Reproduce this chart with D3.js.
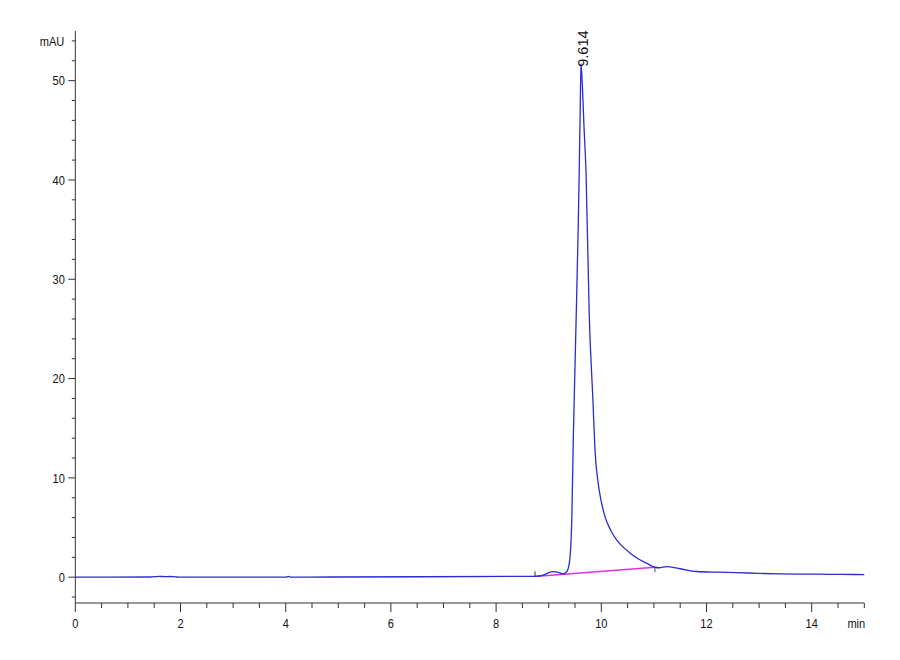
<!DOCTYPE html>
<html>
<head>
<meta charset="utf-8">
<script src="https://cdn.jsdelivr.net/npm/d3@7"></script>
<style>
    body { margin: 0; background: #fff; }
    text { font-family: "Liberation Sans", Arial, sans-serif; }
</style>
</head>
<body>
<div id="chart"></div>
<script>

// signal trace (min, mAU)
var times = [0, 1.4, 1.5, 1.6, 1.7, 1.8, 1.9, 2.0, 4.0, 4.05, 4.1, 4.9, 8.74, 8.9, 9.0, 9.09, 9.18, 9.28,
    9.35, 9.40, 9.44, 9.47, 9.50, 9.53, 9.56, 9.58, 9.60, 9.614, 9.64, 9.67, 9.71, 9.77, 9.84, 9.88, 9.94,
    10.0, 10.07, 10.18, 10.29, 10.42, 10.55, 10.7, 10.86, 11.02, 11.1, 11.24, 11.5, 11.81, 12.2, 12.57,
    13.0, 13.4, 13.8, 14.16, 14.6, 15.0];
var signal = [0, 0.02, 0.05, 0.08, 0.06, 0.07, 0.03, 0, 0, 0.08, 0, 0.02, 0.08, 0.2, 0.45, 0.56, 0.48, 0.33,
    0.6, 1.74, 6.1, 14.5, 21.2, 27.9, 35, 40.7, 47.5, 51.7, 49.5, 45.5, 40.7, 26.5, 17.9, 12.8, 9.5,
    7.6, 6.1, 4.7, 3.76, 3.0, 2.42, 1.85, 1.41, 1.0, 0.95, 1.07, 0.85, 0.57, 0.5, 0.46,
    0.38, 0.33, 0.31, 0.3, 0.28, 0.26];

// integration baseline
var baseTimes = [8.74, 11.02];
var baseValues = [0.08, 1.0];

var peakTime = 9.614;
var peakHeight = 51.7;
var peakLabel = "9.614";

var xMajor = [0, 2, 4, 6, 8, 10, 12, 14];
var yMajor = [0, 10, 20, 30, 40, 50];

var svgWidth = 900;
var svgHeight = 660;

var svg = d3.select("#chart")
    .append("svg")
    .attr("width", svgWidth)
    .attr("height", svgHeight);

var xScale = d3.scaleLinear()
    .domain([0, 15])
    .range([75.3, 864.3]);

var yScale = d3.scaleLinear()
    .domain([-2.6, 55])
    .range([603, 31]);

var axisColor = "#333";
// labels in the original look condensed
var squeeze = "scale(0.82, 1)";

// x axis
var xAxisG = svg.append("g")
    .attr("transform", `translate(0, ${yScale(-2.6)})`);

xAxisG.append("line")
    .attr("x1", xScale(0))
    .attr("x2", xScale(15))
    .attr("stroke", axisColor);

xAxisG.selectAll("line.minor")
    .data(d3.range(0, 15.01, 0.5))
    .enter()
    .append("line")
    .classed("minor", true)
    .attr("x1", d => xScale(d))
    .attr("x2", d => xScale(d))
    .attr("y1", 0)
    .attr("y2", d => xMajor.indexOf(d) >= 0 ? 9 : 5)
    .attr("stroke", axisColor);

xAxisG.selectAll("text")
    .data(xMajor)
    .enter()
    .append("text")
    .attr("transform", d => `translate(${xScale(d)}, 25) ${squeeze}`)
    .attr("text-anchor", "middle")
    .attr("font-size", "13.5px")
    .attr("fill", "#111")
    .text(d => d);

xAxisG.append("text")
    .attr("transform", `translate(${xScale(15) - 8}, 25) ${squeeze}`)
    .attr("text-anchor", "middle")
    .attr("font-size", "13.5px")
    .attr("fill", "#111")
    .text("min");

// y axis
var yAxisG = svg.append("g")
    .attr("transform", `translate(${xScale(0)}, 0)`);

yAxisG.append("line")
    .attr("y1", yScale(55))
    .attr("y2", yScale(-2.6))
    .attr("stroke", axisColor);

yAxisG.selectAll("line.minor")
    .data(d3.range(-2, 54.01, 2))
    .enter()
    .append("line")
    .classed("minor", true)
    .attr("y1", d => yScale(d))
    .attr("y2", d => yScale(d))
    .attr("x1", d => yMajor.indexOf(d) >= 0 ? -7 : -3.5)
    .attr("x2", 0)
    .attr("stroke", axisColor);

yAxisG.selectAll("text")
    .data(yMajor)
    .enter()
    .append("text")
    .attr("transform", d => `translate(-10.5, ${yScale(d)}) ${squeeze}`)
    .attr("dy", "0.35em")
    .attr("text-anchor", "end")
    .attr("font-size", "13.5px")
    .attr("fill", "#111")
    .text(d => d);

yAxisG.append("text")
    .attr("transform", `translate(-11, ${yScale(54)}) ${squeeze}`)
    .attr("dy", "0.35em")
    .attr("text-anchor", "end")
    .attr("font-size", "13.5px")
    .attr("fill", "#111")
    .text("mAU");

// baseline
svg.append("line")
    .attr("x1", xScale(baseTimes[0]))
    .attr("y1", yScale(baseValues[0]))
    .attr("x2", xScale(baseTimes[1]))
    .attr("y2", yScale(baseValues[1]))
    .attr("stroke", "#e030e0")
    .attr("stroke-width", 1.5);

// baseline start / end markers
svg.append("line")
    .attr("x1", xScale(baseTimes[0]))
    .attr("x2", xScale(baseTimes[0]))
    .attr("y1", yScale(baseValues[0]))
    .attr("y2", yScale(baseValues[0]) - 5)
    .attr("stroke", "#333");

svg.append("line")
    .attr("x1", xScale(baseTimes[1]))
    .attr("x2", xScale(baseTimes[1]))
    .attr("y1", yScale(baseValues[1]))
    .attr("y2", yScale(baseValues[1]) + 5)
    .attr("stroke", "#555");

// signal
var trace = times.map((t, i) => [t, signal[i]]);

var line = d3.line()
    .x(d => xScale(d[0]))
    .y(d => yScale(d[1]))
    .curve(d3.curveMonotoneX);

svg.append("path")
    .datum(trace)
    .attr("d", line)
    .attr("fill", "none")
    .attr("stroke", "#2b2bd0")
    .attr("stroke-width", 1.3);

// peak label
svg.append("text")
    .attr("transform", `translate(${xScale(peakTime) + 7}, ${yScale(peakHeight) + 3}) rotate(-90)`)
    .attr("text-anchor", "start")
    .attr("font-size", "14.5px")
    .attr("fill", "#111")
    .text(peakLabel);

</script>
</body>
</html>
